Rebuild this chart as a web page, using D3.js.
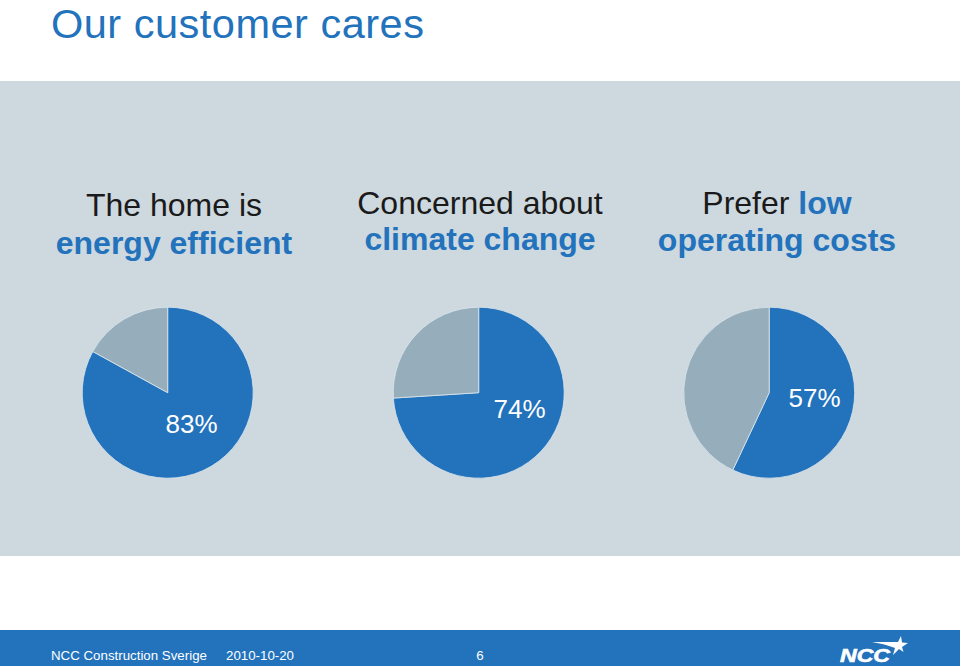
<!DOCTYPE html>
<html>
<head>
<meta charset="utf-8">
<script src="https://cdn.jsdelivr.net/npm/d3@7"></script>
<style>
  html, body { margin: 0; padding: 0; background: #fff; }
  text { font-family: "Liberation Sans", Arial, sans-serif; }
</style>
</head>
<body>
<div id="slide"></div>
<script>
const titleText = "Our customer cares";
const shares = [83, 74, 57];
const shareLabels = ["83%", "74%", "57%"];
const headingsDark = [["The home is", ""], ["Concerned about", ""], ["Prefer ", "low"]];
const headingsSecond = ["energy efficient", "climate change", "operating costs"];
const footerTexts = ["NCC Construction Sverige", "2010-10-20", "6"];

const blue = "#2272bc";
const grey = "#96aebc";
const panel = "#cdd8df";
const ink = "#1a1a1a";

const svg = d3.select("#slide")
  .append("svg")
  .attr("width", 960)
  .attr("height", 666)
  .style("display", "block");

svg.append("text")
  .attr("x", 51)
  .attr("y", 37.6)
  .attr("font-size", 41.5)
  .attr("letter-spacing", 0.5)
  .attr("fill", blue)
  .text(titleText);

svg.append("rect")
  .attr("x", 0)
  .attr("y", 81)
  .attr("width", 960)
  .attr("height", 475)
  .attr("fill", panel);

// headings above each pie
const headingLayout = [
  { x: 174, y1: 216, y2: 254, size: 32 },
  { x: 480, y1: 214, y2: 250, size: 32 },
  { x: 777, y1: 214, y2: 251, size: 32 }
];

headingLayout.forEach(function(h, i) {
  const first = svg.append("text")
    .attr("x", h.x)
    .attr("y", h.y1)
    .attr("text-anchor", "middle")
    .attr("font-size", h.size)
    .attr("fill", ink);
  first.append("tspan").text(headingsDark[i][0]);
  first.append("tspan").attr("fill", blue).attr("font-weight", "bold").text(headingsDark[i][1]);

  svg.append("text")
    .attr("x", h.x)
    .attr("y", h.y2)
    .attr("text-anchor", "middle")
    .attr("font-size", h.size)
    .attr("font-weight", "bold")
    .attr("fill", blue)
    .text(headingsSecond[i]);
});

// pies
const pieLayout = [
  { cx: 167.7, cy: 392.7, lx: 191.5, ly: 433 },
  { cx: 478.7, cy: 392.7, lx: 519.5, ly: 418 },
  { cx: 769.2, cy: 392.7, lx: 814.5, ly: 407 }
];

const pie = d3.pie().sort(null);
const arc = d3.arc().innerRadius(0).outerRadius(85.5);

shares.forEach(function(share, i) {
  const p = pieLayout[i];
  const g = svg.append("g").attr("transform", "translate(" + p.cx + "," + p.cy + ")");

  g.selectAll("path")
    .data(pie([share, 100 - share]))
    .enter()
    .append("path")
    .attr("d", arc)
    .attr("fill", function(d) {
      return d.index === 0 ? blue : grey;
    })
    .attr("stroke", "#dce6ec")
    .attr("stroke-width", 0.8);

  svg.append("text")
    .attr("x", p.lx)
    .attr("y", p.ly)
    .attr("text-anchor", "middle")
    .attr("font-size", 26)
    .attr("fill", "#fff")
    .text(shareLabels[i]);
});

// footer band
svg.append("rect")
  .attr("x", 0)
  .attr("y", 630)
  .attr("width", 960)
  .attr("height", 36)
  .attr("fill", blue);

const footerX = [51, 226, 480];
footerTexts.forEach(function(t, i) {
  svg.append("text")
    .attr("x", footerX[i])
    .attr("y", 660)
    .attr("text-anchor", i === 2 ? "middle" : "start")
    .attr("font-size", 13.3)
    .attr("fill", "#fff")
    .text(t);
});

// logo
svg.append("text")
  .attr("x", 840)
  .attr("y", 662)
  .attr("font-size", 18)
  .attr("font-weight", "bold")
  .attr("font-style", "italic")
  .attr("textLength", 50)
  .attr("lengthAdjust", "spacingAndGlyphs")
  .attr("fill", "#fff")
  .attr("stroke", "#fff")
  .attr("stroke-width", 0.6)
  .text("NCC");

svg.append("path")
  .attr("d", "M872 642 L898 642 L901 636 L902 642.5 L908 643 L902 647 L903.5 652 L899 649 L893 655 L895 648 Q885 644 872 642 Z")
  .attr("fill", "#fff");
</script>
</body>
</html>
